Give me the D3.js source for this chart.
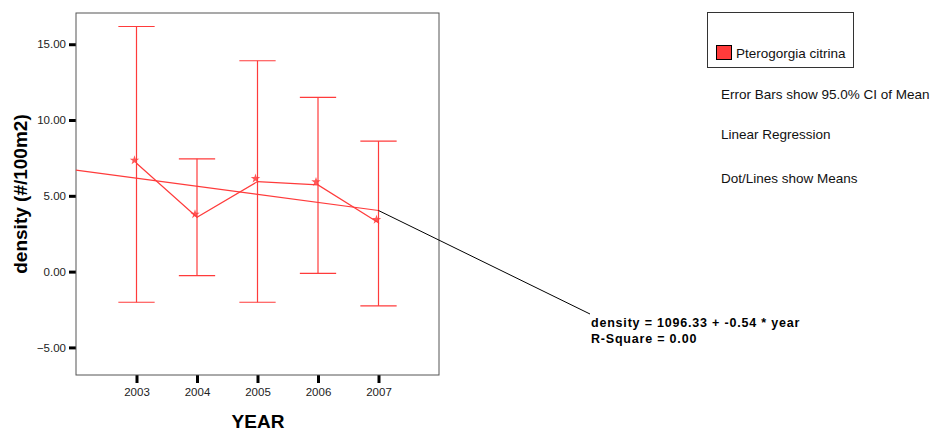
<!DOCTYPE html>
<html lang="en">
<head>
<meta charset="utf-8">
<script src="https://cdn.jsdelivr.net/npm/d3@7"></script>
<style>
  body { margin: 0; background: #fff; }
  text { font-family: Arial, "Liberation Sans", sans-serif; }
</style>
</head>
<body>
<script>

// data
var years = [2003, 2004, 2005, 2006, 2007];
var means = [7.15, 3.59, 5.94, 5.72, 3.23];
var ciLow = [-2.02, -0.26, -2.02, -0.11, -2.26];
var ciHigh = [16.17, 7.44, 13.91, 11.49, 8.61];
var yTicks = [-5, 0, 5, 10, 15];
var regYears = [2002, 2007];
var regValues = [6.69, 4.03];
var legendLabel = "Pterogorgia citrina";
var notes = ["Error Bars show 95.0% CI of Mean", "Linear Regression", "Dot/Lines show Means"];
var equation = ["density = 1096.33 + -0.54 * year", "R-Square = 0.00"];

var red = "#ff3b3b";

var margin = {top: 13, left: 76},
    width = 363,
    height = 362;

var svg = d3.select("body").append("svg")
  .attr("width", 934)
  .attr("height", 431);

var g = svg.append("g")
  .attr("transform", "translate(" + margin.left + "," + margin.top + ")");

var x = d3.scaleLinear().domain([2002, 2008]).range([0, width]);
var y = d3.scaleLinear().domain([-6.82, 17.06]).range([height, 0]);

// axes
var yAxis = g.append("g")
  .call(d3.axisLeft(y).tickValues(yTicks).tickSize(7).tickPadding(3)
    .tickFormat(d3.format(".2f")));
yAxis.select(".domain").remove();
yAxis.selectAll("line").attr("stroke", "#000").attr("stroke-width", 3);
yAxis.selectAll("text").attr("font-size", 11.5).attr("fill", "#222")
  .attr("font-family", "Arial, 'Liberation Sans', sans-serif");

var xAxis = g.append("g")
  .attr("transform", "translate(0," + height + ")")
  .call(d3.axisBottom(x).tickValues(years).tickSize(8).tickPadding(5)
    .tickFormat(d3.format("d")));
xAxis.select(".domain").remove();
xAxis.selectAll("line").attr("stroke", "#000").attr("stroke-width", 3);
xAxis.selectAll("text").attr("font-size", 11.5).attr("fill", "#222")
  .attr("font-family", "Arial, 'Liberation Sans', sans-serif");

// frame
g.append("rect")
  .attr("width", width)
  .attr("height", height)
  .attr("fill", "none")
  .attr("stroke", "#555")
  .attr("stroke-width", 1);

// regression line + leader to the equation
var regEnd = [x(regYears[1]), y(regValues[1])];
g.append("line")
  .attr("x1", x(regYears[0])).attr("y1", y(regValues[0]))
  .attr("x2", regEnd[0]).attr("y2", regEnd[1])
  .attr("stroke", red).attr("stroke-width", 1.2);

svg.append("line")
  .attr("x1", regEnd[0] + margin.left).attr("y1", regEnd[1] + margin.top)
  .attr("x2", 590).attr("y2", 314)
  .attr("stroke", "#000").attr("stroke-width", 1);

// error bars
var capHalf = 0.3;
var bars = g.selectAll(".bar")
  .data(years)
  .enter().append("g")
  .attr("class", "bar")
  .attr("stroke", red)
  .attr("stroke-width", 1.2);

bars.append("line")
  .attr("x1", function(d) { return x(d); })
  .attr("x2", function(d) { return x(d); })
  .attr("y1", function(d, i) { return y(ciLow[i]); })
  .attr("y2", function(d, i) { return y(ciHigh[i]); });

bars.append("line")
  .attr("x1", function(d) { return x(d - capHalf); })
  .attr("x2", function(d) { return x(d + capHalf); })
  .attr("y1", function(d, i) { return y(ciHigh[i]); })
  .attr("y2", function(d, i) { return y(ciHigh[i]); });

bars.append("line")
  .attr("x1", function(d) { return x(d - capHalf); })
  .attr("x2", function(d) { return x(d + capHalf); })
  .attr("y1", function(d, i) { return y(ciLow[i]); })
  .attr("y2", function(d, i) { return y(ciLow[i]); });

// mean line
var line = d3.line()
  .x(function(d, i) { return x(years[i]); })
  .y(function(d) { return y(d); });

g.append("path")
  .datum(means)
  .attr("d", line)
  .attr("fill", "none")
  .attr("stroke", red)
  .attr("stroke-width", 1.2);

// mean markers (SPSS draws them a touch up-left of the vertex)
g.selectAll(".dot")
  .data(means)
  .enter().append("path")
  .attr("class", "dot")
  .attr("d", d3.symbol().type(d3.symbolStar).size(28))
  .attr("transform", function(d, i) {
    return "translate(" + (x(years[i]) - 2) + "," + (y(d) - 3) + ")";
  })
  .attr("fill", red)
  .attr("opacity", 0.85);

// axis titles
svg.append("text")
  .attr("transform", "translate(27,194) rotate(-90)")
  .attr("text-anchor", "middle")
  .attr("font-size", 19)
  .attr("font-weight", "bold")
  .text("density (#/100m2)");

svg.append("text")
  .attr("x", 258)
  .attr("y", 428)
  .attr("text-anchor", "middle")
  .attr("font-size", 19)
  .attr("font-weight", "bold")
  .text("YEAR");

// legend
svg.append("rect")
  .attr("x", 707.5).attr("y", 12.5)
  .attr("width", 146).attr("height", 55)
  .attr("fill", "none").attr("stroke", "#333");

svg.append("rect")
  .attr("x", 716.5).attr("y", 45.5)
  .attr("width", 15).attr("height", 14)
  .attr("fill", red).attr("stroke", "#000");

svg.append("text")
  .attr("x", 736).attr("y", 57.5)
  .attr("font-size", 13.5)
  .attr("fill", "#111")
  .text(legendLabel);

svg.selectAll(".note")
  .data(notes)
  .enter().append("text")
  .attr("class", "note")
  .attr("x", 721)
  .attr("y", function(d, i) { return [99, 139, 183][i]; })
  .attr("font-size", 13.5)
  .attr("fill", "#111")
  .text(function(d) { return d; });

svg.selectAll(".eq")
  .data(equation)
  .enter().append("text")
  .attr("class", "eq")
  .attr("x", 591)
  .attr("y", function(d, i) { return 327 + i * 16; })
  .attr("font-size", 12.5)
  .attr("font-weight", "bold")
  .attr("letter-spacing", 0.8)
  .attr("fill", "#000")
  .text(function(d) { return d; });

</script>
</body>
</html>
